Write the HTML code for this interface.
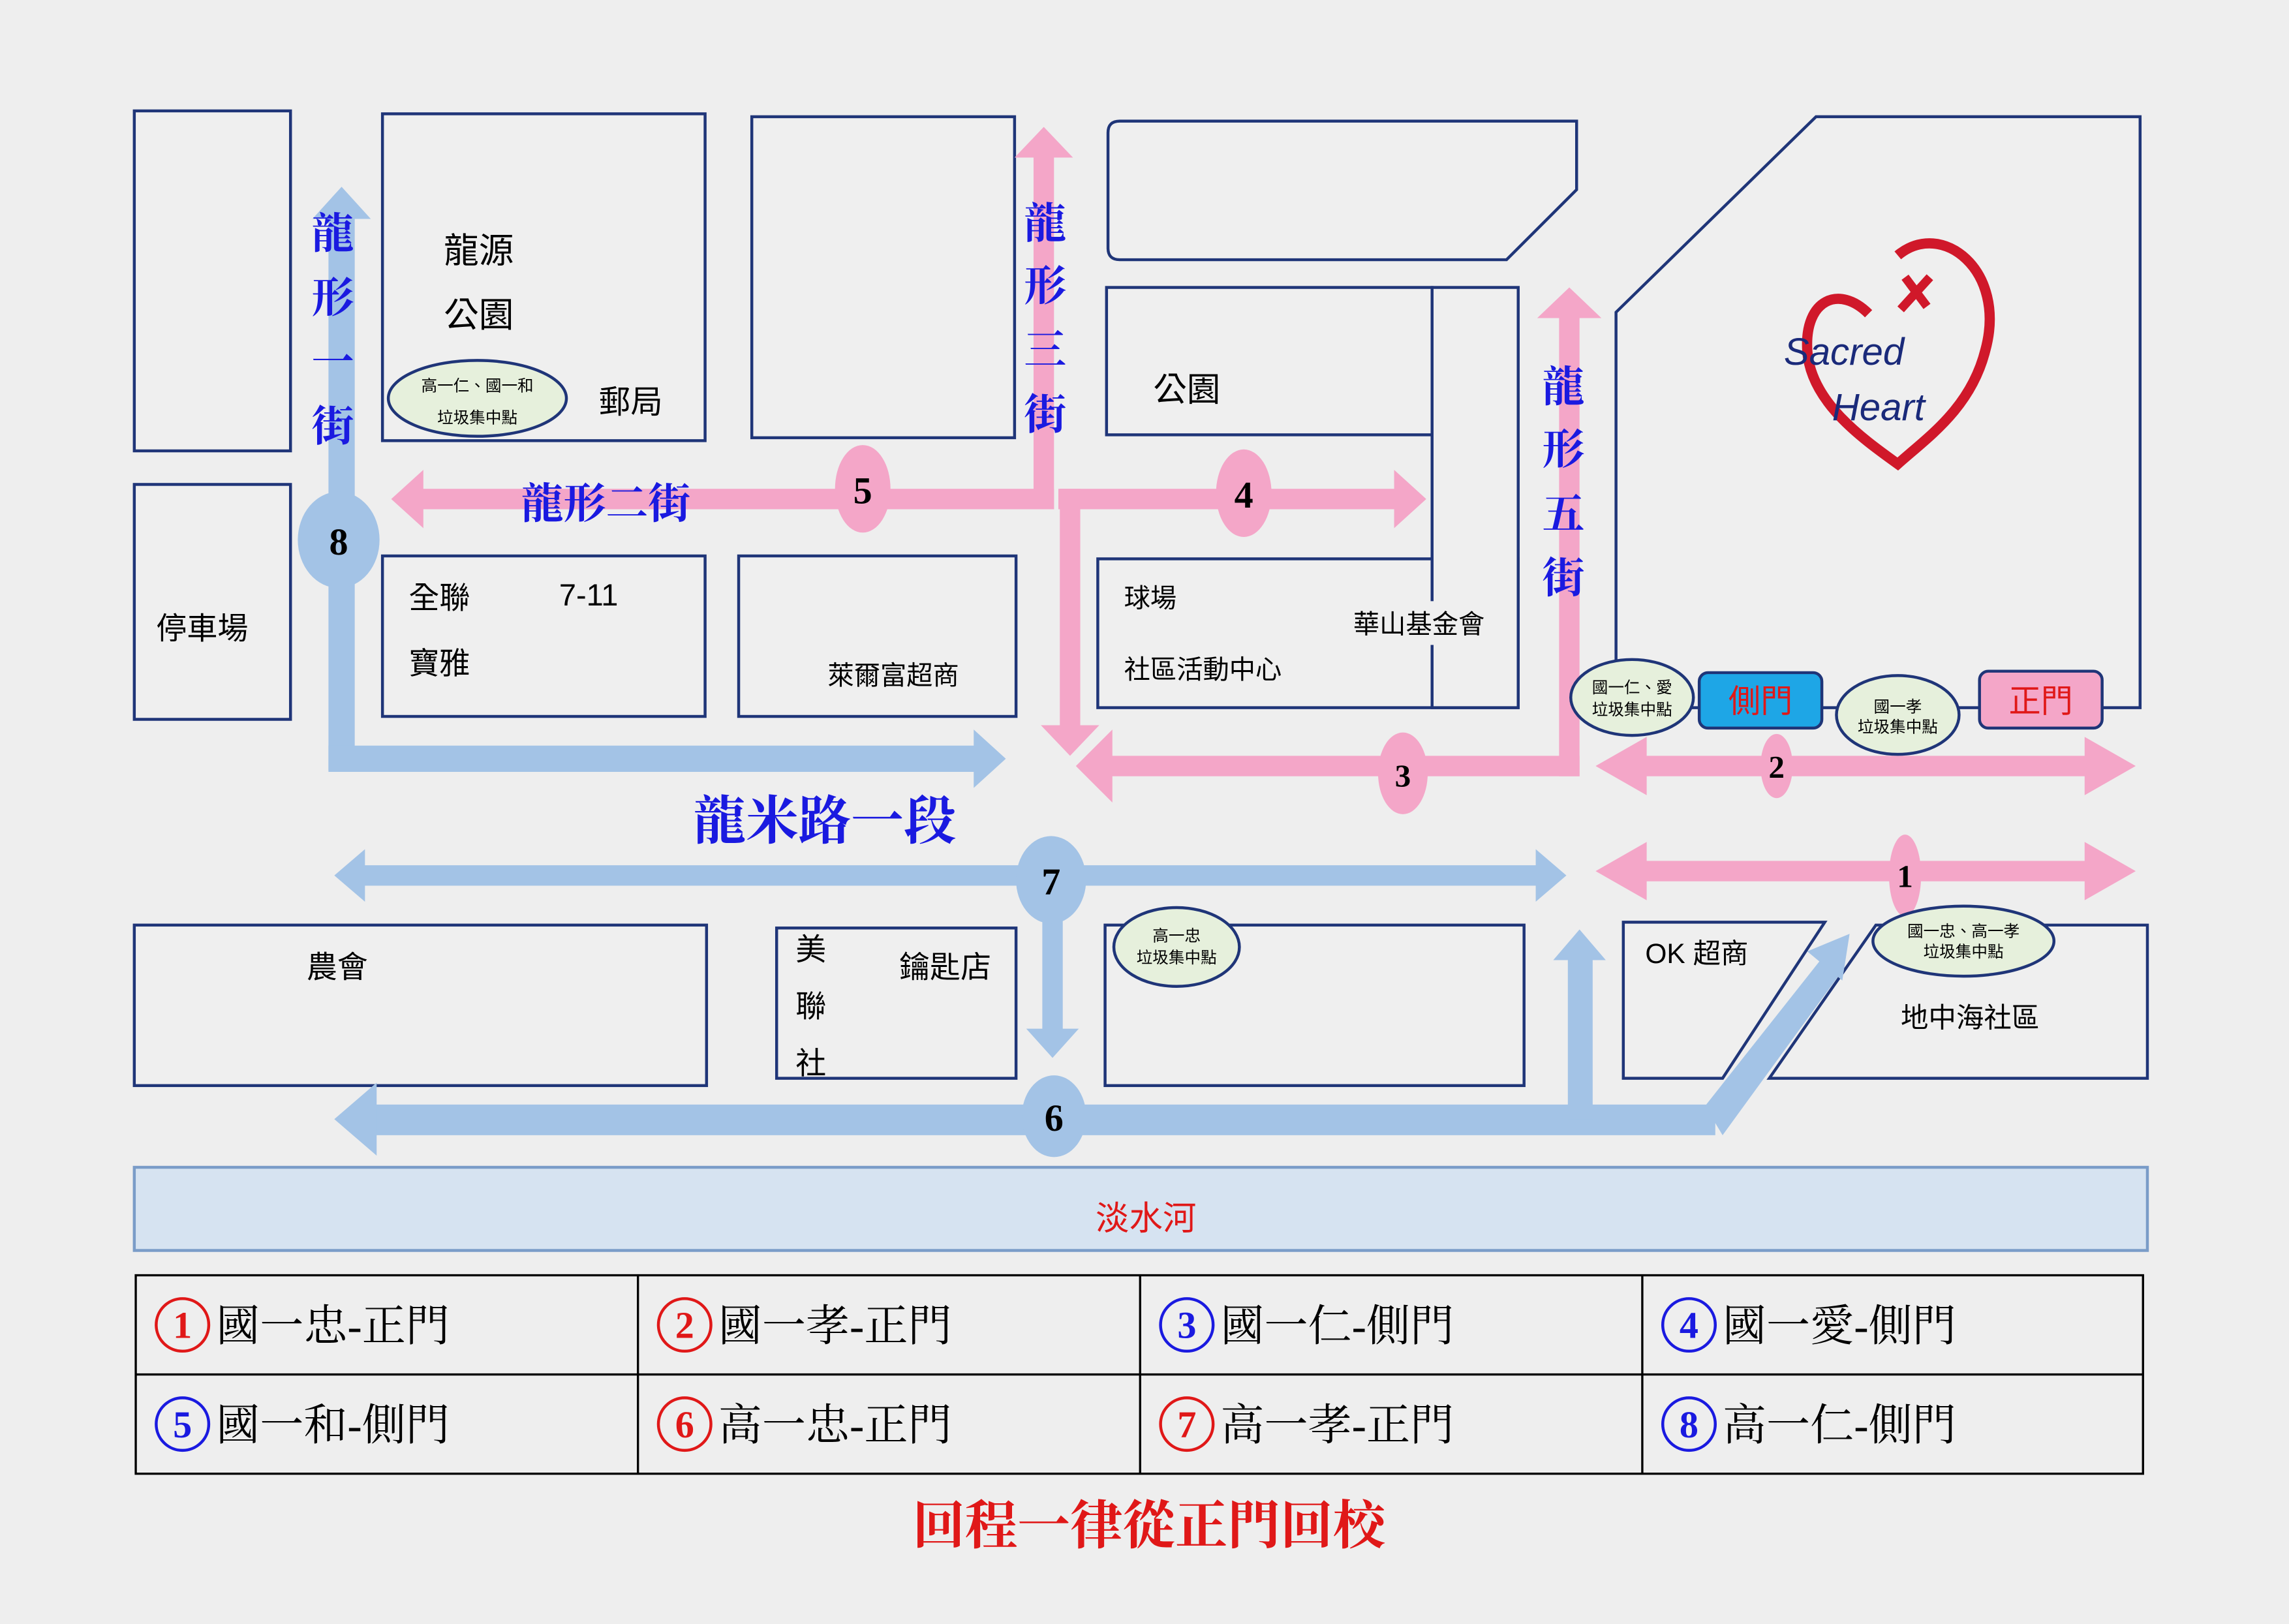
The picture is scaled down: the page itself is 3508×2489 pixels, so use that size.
<!DOCTYPE html>
<html><head><meta charset="utf-8">
<style>
html,body{margin:0;padding:0;background:#eeeeee;}
svg{display:block}
text{font-family:"Liberation Sans","Noto Sans CJK TC",sans-serif;}
.s{font-family:"Liberation Serif","Noto Serif CJK SC",serif;}
</style></head><body>
<svg width="3508" height="2489" viewBox="0 0 1568 1113" preserveAspectRatio="none" xmlns="http://www.w3.org/2000/svg">
<rect width="1568" height="1113" fill="#eeeeee"/>
<g fill="#efefef" stroke="#1f3578" stroke-width="2">
<rect x="92" y="76" width="107" height="233"/>
<rect x="92" y="332" width="107" height="161"/>
<rect x="262" y="78" width="221" height="224"/>
<rect x="515" y="80" width="180" height="220"/>
<rect x="262" y="381" width="221" height="110"/>
<rect x="506" y="381" width="190" height="110"/>
<path d="M767,83 L1080,83 L1080,130 L1032,178 L767,178 Q759,178 759,170 L759,91 Q759,83 767,83 Z"/>
<rect x="758" y="197" width="223" height="101"/>
<rect x="752" y="383" width="288" height="102"/>
<rect x="981" y="197" width="59" height="288"/>
<path d="M1107,214 L1244,80 L1466,80 L1466,485 L1107,485 Z"/>
<rect x="92" y="634" width="392" height="110"/>
<rect x="532" y="636" width="164" height="103"/>
<rect x="757" y="634" width="287" height="110"/>
<path d="M1112,632 L1250,632 L1180,739 L1112,739 Z"/>
<path d="M1212,739 L1285,634 L1471,634 L1471,739 Z"/>
</g>
<rect x="925" y="412" width="95" height="30" fill="#efefef"/>
<!-- logo -->
<g>
<path d="M1300,175 C1330,150 1375,185 1360,240 C1350,280 1320,300 1300,318 C1275,300 1240,275 1238,240 C1236,205 1260,195 1280,215" fill="none" stroke="#d0182a" stroke-width="7"/>
<path d="M1305,190 L1320,210 M1322,190 L1302,212" stroke="#d0182a" stroke-width="6"/>
<text x="1222" y="250" font-size="26" font-style="italic" fill="#1a2a7a" font-family="Liberation Serif,serif">Sacred</text>
<text x="1255" y="288" font-size="26" font-style="italic" fill="#1a2a7a" font-family="Liberation Serif,serif">Heart</text>
</g>
<!-- pink arrows -->
<g fill="#f4a6c8">
<rect x="285" y="335" width="437" height="14"/><polygon points="268,342 290,322 290,362"/>
<rect x="708" y="105" width="14" height="244"/><polygon points="715,87 695,108 735,108"/>
<rect x="725" y="335" width="232" height="14"/><polygon points="977,342 955,322 955,362"/>
<rect x="726" y="335" width="14" height="165"/><polygon points="733,518 713,497 753,497"/>
<rect x="1068" y="215" width="14" height="317"/><polygon points="1075,197 1053,218 1097,218"/>
<rect x="760" y="518" width="322" height="14"/><polygon points="737,525 762,500 762,550"/>
<rect x="1115" y="518" width="325" height="14"/><polygon points="1093,525 1128,505 1128,545"/><polygon points="1463,525 1428,505 1428,545"/>
<rect x="1115" y="590" width="325" height="14"/><polygon points="1093,597 1128,577 1128,617"/><polygon points="1463,597 1428,577 1428,617"/>
</g>
<!-- blue arrows -->
<g fill="#a3c3e6">
<rect x="225" y="145" width="18" height="383"/><polygon points="234,128 214,150 254,150"/>
<rect x="225" y="511" width="445" height="18"/><polygon points="689,520 667,500 667,540"/>
<rect x="248" y="593" width="805" height="14"/><polygon points="229,600 250,582 250,618"/><polygon points="1073,600 1052,582 1052,618"/>
<rect x="714" y="600" width="14" height="108"/><polygon points="721,725 703,705 739,705"/>
<rect x="255" y="757" width="920" height="21"/><polygon points="229,767 258,742 258,792"/>
<rect x="1074" y="655" width="17" height="112"/><polygon points="1082,637 1064,658 1100,658"/>
<polygon points="1168,758 1180,778 1260,668 1247,658"/><polygon points="1267,640 1238,652 1262,672"/>
</g>
<!-- number ellipses -->
<g font-size="26" text-anchor="middle" font-weight="bold">
<ellipse cx="232" cy="370" rx="28" ry="33" fill="#a3c3e6"/><text x="232" y="380" class="s">8</text>
<ellipse cx="591" cy="335" rx="19" ry="30" fill="#f4a6c8"/><text x="591" y="345" class="s">5</text>
<ellipse cx="852" cy="338" rx="19" ry="30" fill="#f4a6c8"/><text x="852" y="348" class="s">4</text>
<ellipse cx="961" cy="530" rx="17" ry="28" fill="#f4a6c8"/><text x="961" y="539" font-size="22" class="s">3</text>
<ellipse cx="1217" cy="525" rx="11" ry="22" fill="#f4a6c8"/><text x="1217" y="533" font-size="22" class="s">2</text>
<ellipse cx="1305" cy="600" rx="11" ry="28" fill="#f4a6c8"/><text x="1305" y="608" font-size="22" class="s">1</text>
<ellipse cx="720" cy="603" rx="24" ry="30" fill="#a3c3e6"/><text x="720" y="613" class="s">7</text>
<ellipse cx="722" cy="765" rx="22" ry="28" fill="#a3c3e6"/><text x="722" y="775" class="s">6</text>
</g>
<!-- small ellipses -->
<g fill="#e6f0dc" stroke="#1f3578" stroke-width="2">
<ellipse cx="327" cy="273" rx="61" ry="26"/>
<ellipse cx="806" cy="649" rx="43" ry="27"/>
<ellipse cx="1345" cy="645" rx="62" ry="24"/>
<ellipse cx="1118" cy="478" rx="42" ry="26"/>
<ellipse cx="1300" cy="490" rx="42" ry="27"/>
</g>
<rect x="1164" y="461" width="84" height="38" rx="6" fill="#1ea6e6" stroke="#1f3578" stroke-width="2"/>
<rect x="1356" y="460" width="84" height="39" rx="6" fill="#f4a6c8" stroke="#1f3578" stroke-width="2"/>
<g font-size="11" text-anchor="middle" fill="#000">
<text x="327" y="268">高一仁、國一和</text><text x="327" y="290">垃圾集中點</text>
<text x="806" y="645">高一忠</text><text x="806" y="660">垃圾集中點</text>
<text x="1345" y="642">國一忠、高一孝</text><text x="1345" y="656">垃圾集中點</text>
<text x="1118" y="475">國一仁、愛</text><text x="1118" y="490">垃圾集中點</text>
<text x="1300" y="488">國一孝</text><text x="1300" y="502">垃圾集中點</text>
</g>
<g font-size="22" text-anchor="middle" fill="#e01818">
<text x="1206" y="488">側門</text><text x="1398" y="488">正門</text>
</g>
<!-- place labels -->
<g font-size="21" fill="#000">
<text x="107" y="438">停車場</text>
<text x="304" y="180" font-size="24">龍源</text><text x="304" y="224" font-size="24">公園</text>
<text x="410" y="283" font-size="22">郵局</text>
<text x="280" y="417">全聯</text><text x="383" y="415">7-11</text><text x="280" y="462">寶雅</text>
<text x="567" y="469" font-size="18">萊爾富超商</text>
<text x="790" y="275" font-size="23">公園</text>
<text x="770" y="416" font-size="18">球場</text><text x="927" y="434" font-size="18">華山基金會</text><text x="770" y="465" font-size="18">社區活動中心</text>
<text x="210" y="670">農會</text>
<text x="545" y="658">美</text><text x="545" y="697">聯</text><text x="545" y="736">社</text>
<text x="616" y="670">鑰匙店</text>
<text x="1127" y="660" font-size="19">OK 超商</text>
<text x="1302" y="704" font-size="19">地中海社區</text>
</g>
<!-- street labels -->
<g font-size="29" font-weight="bold" fill="#1a1ae0" text-anchor="middle" class="s">
<text x="228" y="170" class="s">龍</text><text x="228" y="214" class="s">形</text><text x="228" y="258" class="s">一</text><text x="228" y="302" class="s">街</text>
<text x="716" y="163" class="s">龍</text><text x="716" y="206" class="s">形</text><text x="716" y="250" class="s">三</text><text x="716" y="294" class="s">街</text>
<text x="1071" y="275" class="s">龍</text><text x="1071" y="318" class="s">形</text><text x="1071" y="362" class="s">五</text><text x="1071" y="406" class="s">街</text>
<text x="415" y="355" class="s">龍形二街</text>
<text x="565" y="575" font-size="36" class="s">龍米路一段</text>
</g>
<!-- river -->
<rect x="92" y="800" width="1379" height="57" fill="#d6e3f1" stroke="#7a9cc8" stroke-width="2"/>
<text x="785" y="843" font-size="23" fill="#e01818" text-anchor="middle">淡水河</text>
<!-- table -->
<g stroke="#000" stroke-width="1.5" fill="none">
<rect x="93" y="874" width="1375" height="136"/>
<line x1="93" y1="942" x2="1468" y2="942"/>
<line x1="437" y1="874" x2="437" y2="1010"/><line x1="781" y1="874" x2="781" y2="1010"/><line x1="1125" y1="874" x2="1125" y2="1010"/>
</g>
<g font-size="30" class="s">
<g fill="none" stroke-width="2">
<circle cx="125" cy="908" r="18" stroke="#e01818"/><circle cx="469" cy="908" r="18" stroke="#e01818"/><circle cx="813" cy="908" r="18" stroke="#1a1ae0"/><circle cx="1157" cy="908" r="18" stroke="#1a1ae0"/>
<circle cx="125" cy="976" r="18" stroke="#1a1ae0"/><circle cx="469" cy="976" r="18" stroke="#e01818"/><circle cx="813" cy="976" r="18" stroke="#e01818"/><circle cx="1157" cy="976" r="18" stroke="#1a1ae0"/>
</g>
<g text-anchor="middle" font-size="26" font-weight="bold">
<text x="125" y="917" fill="#e01818" class="s">1</text><text x="469" y="917" fill="#e01818" class="s">2</text><text x="813" y="917" fill="#1a1ae0" class="s">3</text><text x="1157" y="917" fill="#1a1ae0" class="s">4</text>
<text x="125" y="985" fill="#1a1ae0" class="s">5</text><text x="469" y="985" fill="#e01818" class="s">6</text><text x="813" y="985" fill="#e01818" class="s">7</text><text x="1157" y="985" fill="#1a1ae0" class="s">8</text>
</g>
<text x="148" y="919" class="s">國一忠-正門</text><text x="492" y="919" class="s">國一孝-正門</text><text x="836" y="919" class="s">國一仁-側門</text><text x="1180" y="919" class="s">國一愛-側門</text>
<text x="148" y="987" class="s">國一和-側門</text><text x="492" y="987" class="s">高一忠-正門</text><text x="836" y="987" class="s">高一孝-正門</text><text x="1180" y="987" class="s">高一仁-側門</text>
</g>
<text x="787" y="1058" font-size="36" font-weight="bold" fill="#e01818" text-anchor="middle" class="s">回程一律從正門回校</text>
</svg>
</body></html>
